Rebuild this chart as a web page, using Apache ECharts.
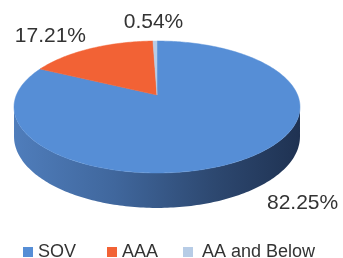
<!DOCTYPE html>
<html><head><meta charset="utf-8">
<script src="https://cdn.jsdelivr.net/npm/echarts@6/dist/echarts.min.js"></script>
<style>html,body{margin:0;padding:0;background:#fff}#c{width:343px;height:258px}</style>
</head><body><div id="c"></div>
<script>
// ---- data ----
const categories = ['SOV', 'AAA', 'AA and Below'];
const values = [82.25, 17.21, 0.54];
const labelTexts = ['82.25%', '17.21%', '0.54%'];

// ---- styles / layout ----
const topColors = ['#568ed6', '#f26235', '#b7cce6'];
const sideStops = [
  [[0, '#4f7dbb'], [0.35, '#40679d'], [0.7, '#2d4870'], [1, '#1f3252']],
  [[0, '#c24e2a'], [1, '#8a3619']],
  [[0, '#8fa3bb'], [1, '#6f8296']]
];
const labelNudge = [[22, 10], [-4.7, -12.5], [-1.5, -18.5]];
const FONT = '"Liberation Sans", Arial, Helvetica, sans-serif';
const CX = 157, CY = 95, A = 140.6, B = 63.8, K = 0.1818, H = 28.6;

function proj(t, drop) {
  const s = Math.sin(t), c = Math.cos(t), d = 1 + K * c;
  return [CX + A * s / d, CY - B * c / d + (drop ? H / d : 0)];
}
const total = values.reduce((a, b) => a + b, 0);

function renderSlice(params, api) {
  const i = params.seriesIndex;
  let before = 0;
  for (let j = 0; j < i; j++) before += values[j];
  const a = before / total * Math.PI * 2;
  const b = (before + api.value(0)) / total * Math.PI * 2;
  const children = [];
  const step = Math.PI / 180;
  // side wall (front part only)
  const s1 = Math.acos(-K), s2 = Math.PI * 2 - s1;
  const sa = Math.max(a, s1), sb = Math.min(b, s2);
  if (sb > sa) {
    const pts = [];
    for (let t = sa; t < sb; t += step) pts.push(proj(t, false));
    pts.push(proj(sb, false));
    for (let t = sb; t > sa; t -= step) pts.push(proj(t, true));
    pts.push(proj(sa, true));
    children.push({
      type: 'polygon', z2: 1, shape: { points: pts },
      style: { fill: new echarts.graphic.LinearGradient(0, 0, 1, 0,
        sideStops[i].map(s => ({ offset: s[0], color: s[1] }))) }
    });
  }
  // top face
  const top = [[CX, CY]];
  for (let t = a; t < b; t += step) top.push(proj(t, false));
  top.push(proj(b, false));
  children.push({ type: 'polygon', z2: 10, shape: { points: top },
    style: { fill: topColors[i], stroke: topColors[i], lineWidth: 0.5 } });
  // label
  const m = (a + b) / 2;
  const front = Math.cos(m) < 0;
  const p = proj(m, front);
  const s = Math.sin(m);
  children.push({ type: 'text', z2: 20,
    style: { text: labelTexts[i], x: p[0] + labelNudge[i][0], y: p[1] + labelNudge[i][1],
      fill: '#333333', font: '21px ' + FONT,
      align: s > 0.1 ? 'left' : (s < -0.1 ? 'right' : 'center'), verticalAlign: 'middle' } });
  return { type: 'group', children };
}

const legendLefts = [23, 107, 183];
const legendPad = [[0, 0, 0, 0], [0, 0, 0, 0], [0, 0, 0, 4]];

const chart = echarts.init(document.getElementById('c'), null, { renderer: 'canvas' });
chart.setOption({
  animation: false,
  color: topColors,
  legend: categories.map((c, i) => ({
    data: [c], left: legendLefts[i], top: 243, padding: 0,
    icon: 'rect', itemWidth: 10, itemHeight: 10,
    selectedMode: false,
    textStyle: { fontFamily: FONT, fontSize: 18, color: '#333333', padding: legendPad[i] }
  })),
  series: categories.map((c, i) => ({
    type: 'custom', name: c, coordinateSystem: 'none', silent: true,
    itemStyle: { color: topColors[i] },
    data: [values[i]],
    renderItem: renderSlice
  }))
});
</script></body></html>
